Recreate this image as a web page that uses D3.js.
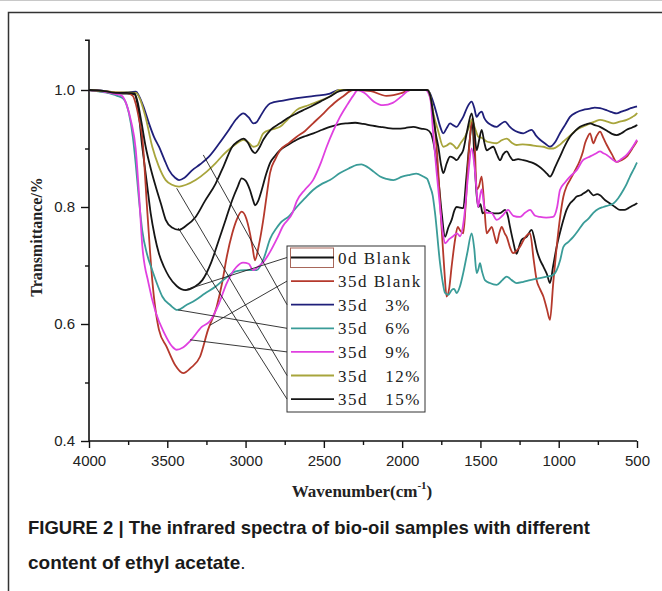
<!DOCTYPE html>
<html><head><meta charset="utf-8">
<script src="https://cdn.jsdelivr.net/npm/d3@7"></script>
<style>
body{margin:0;background:#fff;}
svg{display:block;}
.tick text{font-family:"Liberation Sans",Arial,sans-serif;font-size:15px;fill:#222;}
</style></head><body>
<svg id="chart" width="662" height="591"></svg>
<script>

// spectra: [wavenumber, transmittance]
const blank0d=[[4000,1.0],[3900,0.997],[3830,0.994],[3760,0.994],[3710,0.993],[3690,0.975],[3660,0.903],[3630,0.84],[3606,0.789],[3580,0.75],[3553,0.72],[3520,0.697],[3489,0.681],[3440,0.665],[3383,0.658],[3330,0.663],[3276,0.675],[3220,0.705],[3170,0.744],[3125,0.78],[3085,0.812],[3050,0.835],[3025,0.849],[3000,0.845],[2972,0.829],[2950,0.81],[2940,0.803],[2920,0.81],[2897,0.829],[2870,0.855],[2844,0.875],[2810,0.888],[2780,0.897],[2730,0.906],[2673,0.915],[2620,0.921],[2567,0.926],[2510,0.932],[2461,0.937],[2410,0.941],[2354,0.943],[2300,0.944],[2248,0.942],[2190,0.939],[2141,0.937],[2090,0.935],[2035,0.934],[1980,0.935],[1929,0.937],[1880,0.934],[1840,0.932],[1815,0.925],[1800,0.91],[1780,0.875],[1762,0.83],[1747,0.789],[1726,0.749],[1705,0.765],[1684,0.778],[1665,0.795],[1652,0.80],[1630,0.799],[1610,0.798],[1590,0.85],[1570,0.91],[1552,0.945],[1538,0.88],[1524,0.82],[1513,0.80],[1500,0.805],[1486,0.789],[1460,0.795],[1430,0.79],[1396,0.789],[1370,0.79],[1343,0.795],[1325,0.785],[1311,0.766],[1290,0.74],[1269,0.72],[1250,0.735],[1237,0.744],[1205,0.749],[1173,0.761],[1155,0.745],[1141,0.727],[1120,0.71],[1098,0.698],[1075,0.685],[1056,0.67],[1035,0.70],[1013,0.732],[990,0.758],[970,0.778],[950,0.795],[928,0.806],[905,0.812],[885,0.818],[860,0.82],[843,0.823],[825,0.826],[811,0.829],[795,0.824],[779,0.82],[755,0.822],[736,0.82],[705,0.812],[672,0.806],[640,0.8],[609,0.795],[580,0.795],[555,0.798],[530,0.802],[502,0.806],[500,0.807]];

const blank35d=[[4000,1.0],[3900,0.998],[3830,0.996],[3760,0.995],[3720,0.99],[3700,0.975],[3680,0.95],[3660,0.92],[3627,0.79],[3596,0.675],[3553,0.59],[3504,0.561],[3450,0.53],[3398,0.516],[3350,0.525],[3291,0.544],[3240,0.59],[3184,0.63],[3150,0.67],[3120,0.715],[3085,0.755],[3057,0.778],[3025,0.792],[2995,0.78],[2972,0.755],[2955,0.73],[2940,0.709],[2915,0.735],[2887,0.778],[2865,0.82],[2844,0.858],[2810,0.882],[2780,0.897],[2720,0.91],[2673,0.92],[2620,0.93],[2569,0.943],[2510,0.958],[2461,0.971],[2410,0.983],[2378,0.989],[2313,1.0],[2200,0.998],[2100,0.99],[2000,0.995],[1950,1.0],[1840,1.0],[1815,0.98],[1780,0.903],[1747,0.76],[1730,0.69],[1716,0.647],[1700,0.66],[1684,0.698],[1662,0.744],[1645,0.766],[1630,0.76],[1610,0.755],[1595,0.80],[1575,0.89],[1550,0.952],[1538,0.92],[1524,0.83],[1510,0.835],[1492,0.852],[1475,0.80],[1460,0.755],[1445,0.76],[1428,0.766],[1410,0.75],[1396,0.738],[1380,0.755],[1364,0.766],[1345,0.755],[1332,0.749],[1310,0.73],[1291,0.721],[1270,0.725],[1247,0.732],[1215,0.748],[1183,0.755],[1160,0.71],[1141,0.675],[1120,0.66],[1098,0.647],[1075,0.625],[1056,0.607],[1035,0.67],[1013,0.732],[990,0.785],[970,0.818],[950,0.835],[928,0.846],[900,0.86],[864,0.88],[845,0.895],[832,0.909],[815,0.92],[800,0.926],[779,0.909],[760,0.92],[736,0.929],[715,0.918],[693,0.906],[660,0.89],[630,0.877],[600,0.88],[566,0.886],[530,0.9],[502,0.912],[500,0.913]];

const ea3=[[4000,1.0],[3900,0.998],[3830,0.995],[3760,0.996],[3700,0.997],[3681,0.99],[3650,0.97],[3617,0.943],[3585,0.92],[3553,0.903],[3520,0.882],[3489,0.863],[3450,0.85],[3425,0.846],[3390,0.85],[3340,0.863],[3290,0.873],[3234,0.886],[3170,0.908],[3106,0.932],[3060,0.95],[3014,0.96],[2980,0.953],[2950,0.943],[2930,0.945],[2908,0.954],[2870,0.97],[2844,0.977],[2760,0.982],[2673,0.986],[2560,0.99],[2461,0.994],[2400,1.0],[1840,1.0],[1822,0.994],[1800,0.978],[1780,0.96],[1760,0.94],[1737,0.926],[1715,0.935],[1694,0.943],[1675,0.94],[1652,0.937],[1630,0.945],[1610,0.954],[1585,0.97],[1556,0.98],[1540,0.97],[1524,0.954],[1508,0.96],[1492,0.963],[1475,0.952],[1460,0.946],[1430,0.94],[1396,0.937],[1370,0.942],[1343,0.946],[1315,0.938],[1290,0.932],[1260,0.928],[1226,0.926],[1200,0.929],[1173,0.932],[1145,0.922],[1119,0.915],[1085,0.908],[1056,0.903],[1020,0.912],[992,0.926],[960,0.94],[928,0.954],[885,0.962],[843,0.966],[800,0.968],[770,0.97],[736,0.969],[690,0.965],[660,0.962],[630,0.96],[600,0.963],[566,0.966],[540,0.969],[513,0.971],[500,0.972]];

const ea6=[[4000,1.0],[3900,0.996],[3820,0.99],[3780,0.985],[3745,0.96],[3720,0.92],[3702,0.875],[3680,0.81],[3660,0.76],[3630,0.72],[3596,0.692],[3560,0.665],[3532,0.647],[3480,0.632],[3436,0.624],[3380,0.632],[3319,0.641],[3260,0.652],[3191,0.664],[3120,0.68],[3063,0.69],[3000,0.692],[2929,0.692],[2880,0.715],[2844,0.745],[2800,0.765],[2780,0.772],[2720,0.785],[2673,0.80],[2620,0.815],[2569,0.829],[2510,0.84],[2461,0.846],[2397,0.858],[2340,0.866],[2290,0.872],[2260,0.873],[2226,0.869],[2180,0.86],[2141,0.852],[2100,0.848],[2056,0.846],[2000,0.852],[1950,0.855],[1910,0.857],[1865,0.852],[1840,0.848],[1822,0.835],[1805,0.82],[1790,0.79],[1758,0.704],[1740,0.67],[1726,0.653],[1705,0.65],[1684,0.658],[1668,0.66],[1652,0.653],[1630,0.665],[1610,0.687],[1585,0.72],[1556,0.755],[1540,0.73],[1524,0.687],[1512,0.695],[1503,0.704],[1490,0.69],[1471,0.675],[1440,0.67],[1396,0.667],[1360,0.675],[1332,0.681],[1300,0.675],[1269,0.67],[1226,0.672],[1183,0.675],[1130,0.678],[1077,0.681],[1040,0.683],[1013,0.692],[990,0.71],[970,0.732],[940,0.74],[907,0.749],[870,0.762],[843,0.772],[810,0.78],[779,0.79],[745,0.797],[715,0.80],[680,0.803],[651,0.806],[620,0.815],[587,0.829],[565,0.84],[545,0.852],[520,0.865],[502,0.875],[500,0.876]];

const ea9=[[4000,1.0],[3900,0.997],[3830,0.993],[3790,0.99],[3760,0.975],[3730,0.945],[3702,0.90],[3680,0.82],[3660,0.735],[3620,0.67],[3574,0.62],[3520,0.585],[3470,0.562],[3440,0.556],[3400,0.56],[3350,0.572],[3280,0.595],[3227,0.605],[3170,0.635],[3120,0.67],[3060,0.697],[3016,0.705],[2980,0.703],[2952,0.692],[2920,0.698],[2889,0.705],[2840,0.725],[2801,0.745],[2760,0.768],[2700,0.79],[2673,0.81],[2620,0.83],[2569,0.846],[2520,0.875],[2482,0.903],[2440,0.93],[2397,0.954],[2350,0.975],[2313,0.99],[2282,1.0],[2240,0.995],[2180,0.98],[2122,0.974],[2060,0.978],[2000,0.99],[1950,1.0],[1850,1.0],[1820,0.985],[1803,0.93],[1780,0.86],[1758,0.80],[1740,0.755],[1726,0.738],[1700,0.745],[1675,0.75],[1650,0.755],[1630,0.75],[1605,0.78],[1580,0.85],[1556,0.90],[1540,0.875],[1525,0.83],[1515,0.80],[1505,0.815],[1492,0.83],[1475,0.80],[1460,0.79],[1430,0.79],[1396,0.778],[1360,0.785],[1324,0.795],[1290,0.785],[1247,0.783],[1215,0.79],[1183,0.795],[1150,0.785],[1119,0.783],[1080,0.782],[1036,0.783],[1010,0.80],[992,0.829],[960,0.842],[928,0.852],[885,0.863],[845,0.88],[810,0.885],[781,0.889],[760,0.892],[736,0.895],[715,0.892],[693,0.889],[660,0.882],[630,0.877],[600,0.882],[566,0.889],[540,0.898],[513,0.909],[500,0.915]];

const ea12=[[4000,1.0],[3900,0.998],[3830,0.996],[3760,0.996],[3700,0.995],[3675,0.985],[3640,0.955],[3596,0.903],[3555,0.87],[3510,0.846],[3470,0.838],[3425,0.835],[3380,0.838],[3319,0.846],[3250,0.86],[3191,0.875],[3140,0.89],[3085,0.903],[3050,0.91],[3014,0.915],[2980,0.91],[2950,0.903],[2925,0.905],[2887,0.926],[2840,0.932],[2780,0.937],[2730,0.95],[2673,0.966],[2620,0.972],[2567,0.977],[2510,0.983],[2461,0.989],[2400,1.0],[1840,1.0],[1820,0.99],[1800,0.96],[1770,0.93],[1737,0.903],[1715,0.905],[1694,0.909],[1670,0.905],[1652,0.90],[1625,0.91],[1599,0.92],[1575,0.935],[1556,0.949],[1535,0.935],[1513,0.92],[1490,0.918],[1460,0.912],[1430,0.91],[1396,0.909],[1365,0.914],[1332,0.917],[1300,0.91],[1269,0.906],[1230,0.907],[1183,0.906],[1140,0.904],[1098,0.903],[1060,0.90],[1034,0.90],[1000,0.905],[970,0.912],[949,0.917],[915,0.925],[885,0.932],[840,0.938],[800,0.943],[770,0.946],[736,0.949],[690,0.946],[651,0.943],[610,0.946],[566,0.949],[530,0.954],[502,0.96],[500,0.961]];

const ea15=[[4000,1.0],[3900,0.998],[3830,0.995],[3760,0.995],[3710,0.994],[3690,0.98],[3665,0.945],[3638,0.903],[3605,0.865],[3574,0.835],[3540,0.805],[3510,0.778],[3470,0.765],[3425,0.761],[3380,0.768],[3319,0.783],[3260,0.81],[3191,0.84],[3140,0.87],[3085,0.903],[3050,0.912],[3014,0.917],[2985,0.91],[2960,0.897],[2940,0.892],[2915,0.90],[2887,0.915],[2840,0.932],[2780,0.943],[2730,0.952],[2673,0.96],[2620,0.967],[2567,0.974],[2510,0.982],[2461,0.989],[2400,0.998],[2350,1.0],[1840,1.0],[1820,0.99],[1800,0.954],[1785,0.925],[1769,0.903],[1750,0.87],[1737,0.858],[1715,0.875],[1694,0.886],[1672,0.884],[1652,0.88],[1630,0.888],[1610,0.897],[1585,0.93],[1556,0.96],[1540,0.935],[1524,0.897],[1508,0.915],[1492,0.932],[1475,0.91],[1460,0.897],[1440,0.90],[1418,0.903],[1395,0.89],[1375,0.88],[1355,0.89],[1332,0.895],[1310,0.886],[1290,0.88],[1260,0.882],[1226,0.88],[1195,0.878],[1162,0.875],[1130,0.87],[1098,0.863],[1075,0.857],[1056,0.852],[1020,0.87],[992,0.886],[960,0.905],[928,0.92],[895,0.93],[864,0.937],[830,0.941],[800,0.943],[770,0.94],[736,0.937],[690,0.93],[660,0.925],[630,0.923],[600,0.926],[566,0.932],[530,0.936],[502,0.94],[500,0.941]];

const seriesNames=['0d Blank','35d Blank','35d   3%','35d   6%','35d   9%','35d   12%','35d   15%'];
const seriesData=[blank0d,blank35d,ea3,ea6,ea9,ea12,ea15];
const seriesColors=['#151515','#b5392c','#1f1f7a','#3a9c98','#e040e0','#a8a53c','#151515'];
// where each legend leader line touches its curve
const leaderPoints=[[3387,0.658],[3227,0.598],[3270,0.889],[3430,0.624],[3355,0.573],[3440,0.832],[3430,0.764]];

const xMajor=[4000,3500,3000,2500,2000,1500,1000,500];
const xMinor=[3750,3250,2750,2250,1750,1250,750];
const yMajor=[0.4,0.6,0.8,1.0];
const yMinor=[0.5,0.7,0.9];
const yTop=1.085;

const svg=d3.select('#chart');
const x=d3.scaleLinear().domain([4000,500]).range([89,637]);
const y=d3.scaleLinear().domain([0.4,1.0]).range([441,90]);

// figure frame
svg.append('line').attr('x1',0).attr('x2',662).attr('y1',0.5).attr('y2',0.5)
   .attr('stroke','#c8c8c8').attr('stroke-width',1);
svg.append('path').attr('d','M8.5,591 V12.5 H662')
   .attr('fill','none').attr('stroke','#333').attr('stroke-width',1.5);

// axes
let gx=svg.append('g').attr('transform','translate(0,441)')
   .call(d3.axisBottom(x).tickValues(xMajor).tickSize(7).tickPadding(7).tickFormat(d3.format('d')));
let gxm=svg.append('g').attr('transform','translate(0,441)')
   .call(d3.axisBottom(x).tickValues(xMinor).tickSize(4).tickFormat(''));
let gy=svg.append('g').attr('transform','translate(89,0)')
   .call(d3.axisLeft(y).tickValues(yMajor).tickSize(8).tickPadding(6).tickFormat(d3.format('.1f')));
let gym=svg.append('g').attr('transform','translate(89,0)')
   .call(d3.axisLeft(y).tickValues(yMinor).tickSize(4).tickFormat(''));
[gx,gxm,gy,gym].forEach(g=>{
   g.select('.domain').remove();
   g.selectAll('.tick line').attr('stroke','#111').attr('stroke-width',1.4);
});
svg.append('path')
   .attr('d','M'+(x(4000)-4)+','+y(yTop)+' H'+x(4000)+' V'+y(0.4)+' H'+x(500))
   .attr('fill','none').attr('stroke','#111').attr('stroke-width',1.6);

// spectra
const line=d3.line().x(d=>x(d[0])).y(d=>y(d[1])).curve(d3.curveMonotoneX);
svg.append('g').selectAll('path').data(seriesData).join('path')
   .attr('d',d=>line(d))
   .attr('fill','none')
   .attr('stroke',(d,i)=>seriesColors[i])
   .attr('stroke-width',1.8)
   .attr('stroke-linejoin','round');

// legend
const lgX=287, lgY=246, lgW=138, lgH=166, rowY0=257.5, rowDY=23.6;
svg.append('rect').attr('x',lgX).attr('y',lgY).attr('width',lgW).attr('height',lgH)
   .attr('fill','#fff').attr('stroke','#333').attr('stroke-width',1);

// leader lines from legend to curves
svg.append('g').selectAll('line').data(leaderPoints).join('line')
   .attr('x1',d=>x(d[0])).attr('y1',d=>y(d[1]))
   .attr('x2',lgX).attr('y2',(d,i)=>rowY0+i*rowDY)
   .attr('stroke','#222').attr('stroke-width',0.9);

svg.append('rect').attr('x',290.5).attr('y',248).attr('width',43).attr('height',19.5)
   .attr('fill','none').attr('stroke','#a8675a').attr('stroke-width',1);

let lg=svg.append('g');
lg.selectAll('line').data(seriesNames).join('line')
   .attr('x1',291).attr('x2',334)
   .attr('y1',(d,i)=>rowY0+i*rowDY).attr('y2',(d,i)=>rowY0+i*rowDY)
   .attr('stroke',(d,i)=>seriesColors[i]).attr('stroke-width',1.8);
lg.selectAll('text').data(seriesNames).join('text')
   .attr('x',338).attr('y',(d,i)=>rowY0+i*rowDY+6)
   .attr('font-family','"Liberation Serif","Times New Roman",serif')
   .attr('font-size',17).attr('letter-spacing',1.5)
   .style('white-space','pre').attr('fill','#222')
   .text(d=>d);

// axis titles
let xt=svg.append('text').attr('x',362).attr('y',497).attr('text-anchor','middle')
   .attr('font-family','"Liberation Serif","Times New Roman",serif')
   .attr('font-weight','bold').attr('font-size',17).attr('fill','#222');
xt.append('tspan').text('Wavenumber(cm');
xt.append('tspan').attr('font-size',11).attr('dy',-8).text('-1');
xt.append('tspan').attr('dy',8).text(')');

svg.append('text').attr('transform','translate(42,237) rotate(-90)').attr('text-anchor','middle')
   .attr('font-family','"Liberation Serif","Times New Roman",serif')
   .attr('font-weight','bold').attr('font-size',16).attr('fill','#222')
   .text('Transmittance/%');

// caption
const capFont='"Liberation Sans Narrow","Liberation Sans",Arial,sans-serif';
svg.append('text').attr('x',28).attr('y',534)
   .attr('font-family',capFont).attr('font-weight','bold').attr('font-size',19).attr('fill','#1a1a1a')
   .attr('textLength',562).attr('lengthAdjust','spacingAndGlyphs')
   .text('FIGURE 2 | The infrared spectra of bio-oil samples with different');
let c2=svg.append('text').attr('x',28).attr('y',569)
   .attr('font-family',capFont).attr('font-size',19).attr('fill','#1a1a1a');
c2.append('tspan').attr('font-weight','bold').text('content of ethyl acetate');
c2.append('tspan').text('.');
</script>
</body></html>
